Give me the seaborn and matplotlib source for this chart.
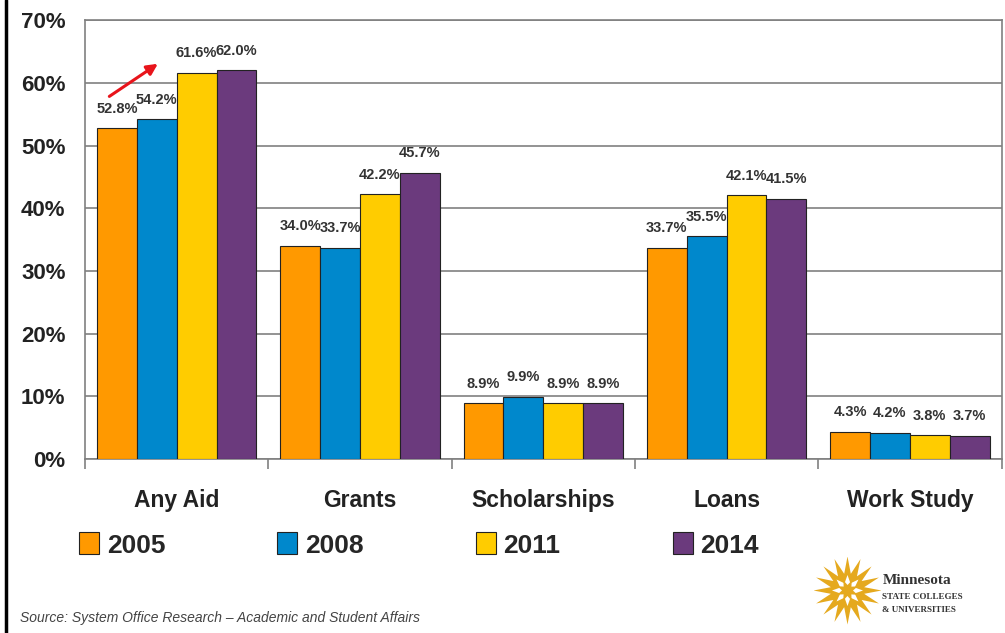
import numpy as np
import pandas as pd
import matplotlib.pyplot as plt
import seaborn as sns

categories = ['Any Aid', 'Grants', 'Scholarships', 'Loans', 'Work Study']
years = ['2005', '2008', '2011', '2014']
pct_2005 = [52.8, 34.0, 8.9, 33.7, 4.3]
pct_2008 = [54.2, 33.7, 9.9, 35.5, 4.2]
pct_2011 = [61.6, 42.2, 8.9, 42.1, 3.8]
pct_2014 = [62.0, 45.7, 8.9, 41.5, 3.7]
y_ticks = [0, 10, 20, 30, 40, 50, 60, 70]

colors = ['#FF9900', '#0088CC', '#FFCC00', '#6B3A7D']

rows = []
for year, vals in zip(years, [pct_2005, pct_2008, pct_2011, pct_2014]):
    for cat, v in zip(categories, vals):
        rows.append({'Category': cat, 'Year': year, 'Percent': v})
df = pd.DataFrame(rows)

sns.set_style('white')
plt.rcParams['font.family'] = ['Liberation Sans', 'DejaVu Sans']

fig = plt.figure(figsize=(10.05, 6.33), dpi=100)
ax = fig.add_axes([0.0846, 0.275, 0.912, 0.693])

sns.barplot(data=df, x='Category', y='Percent', hue='Year', order=categories,
            hue_order=years, palette=colors, width=0.87, edgecolor='#222222',
            linewidth=0.8, saturation=1, errorbar=None, ax=ax, zorder=3)

for cont in ax.containers:
    ax.bar_label(cont, labels=[f'{v:.1f}%' for v in cont.datavalues], padding=9,
                 fontsize=10.5, fontweight='bold', color='#333333')

ax.set_ylim(0, 70)
ax.set_xlim(-0.5, 4.5)
ax.set_yticks(y_ticks)
ax.set_yticklabels([f'{t}%' for t in y_ticks], fontsize=16, fontweight='bold', color='#222222')
ax.yaxis.grid(True, color='#808080', linewidth=1.2, zorder=0)
ax.set_axisbelow(True)

ax.set_xticks(np.arange(-0.5, 5, 1))
ax.set_xticklabels([''] * 6)
ax.set_xticks(np.arange(5), minor=True)
ax.set_xticklabels(categories, minor=True, fontsize=16.5, fontweight='bold', color='#222222')
ax.tick_params(axis='x', which='major', length=7, width=1.2, color='#808080', direction='out', bottom=True)
ax.tick_params(axis='x', which='minor', length=0, pad=22)
ax.tick_params(axis='y', length=0, pad=14)
ax.set_xlabel('')
ax.set_ylabel('')
for side in ['left', 'bottom', 'right', 'top']:
    ax.spines[side].set_color('#808080')
    ax.spines[side].set_linewidth(1.2)

# red arrow in Any Aid group
ax.annotate('', xy=(-0.09, 63.3), xytext=(-0.38, 57.6),
            arrowprops=dict(arrowstyle='-|>', color='#E8141B', lw=2.2, mutation_scale=16))

handles, labels = ax.get_legend_handles_labels()
ax.get_legend().remove()
fig.legend(handles, labels, loc='center left', bbox_to_anchor=(0.055, 0.139), ncol=4,
           frameon=False, handlelength=0.75, handleheight=0.9, handletextpad=0.3,
           columnspacing=4.25, prop={'size': 19, 'weight': 'bold'})

fig.text(0.02, 0.012, 'Source: System Office Research \u2013 Academic and Student Affairs',
         fontsize=10, fontstyle='italic', color='#444444', va='bottom')

# logo
fig.text(0.878, 0.083, 'Minnesota', family='Liberation Serif', fontweight='bold',
         fontsize=11, color='#333333', va='center')
fig.text(0.878, 0.057, 'STATE COLLEGES', family='Liberation Serif', fontweight='bold',
         fontsize=6.5, color='#333333', va='center')
fig.text(0.878, 0.036, '& UNIVERSITIES', family='Liberation Serif', fontweight='bold',
         fontsize=6.5, color='#333333', va='center')
logo_ax = fig.add_axes([0.81, 0.015, 0.066, 0.105])
logo_ax.scatter([0], [0], marker=(16, 1, 0), s=2400, color='#E5A91E', linewidths=0)
logo_ax.scatter([0], [0], marker=(8, 1, 0), s=500, color='white', linewidths=0)
logo_ax.scatter([0], [0], marker=(8, 1, 22), s=250, color='#E5A91E', linewidths=0)
logo_ax.set_xlim(-1, 1)
logo_ax.set_ylim(-1, 1)
logo_ax.axis('off')

# slide frame line on the left
fig.add_artist(plt.Line2D([0.006, 0.006], [0, 1], color='black', linewidth=2.5,
                          transform=fig.transFigure))

fig.savefig('out.png', dpi=100)
